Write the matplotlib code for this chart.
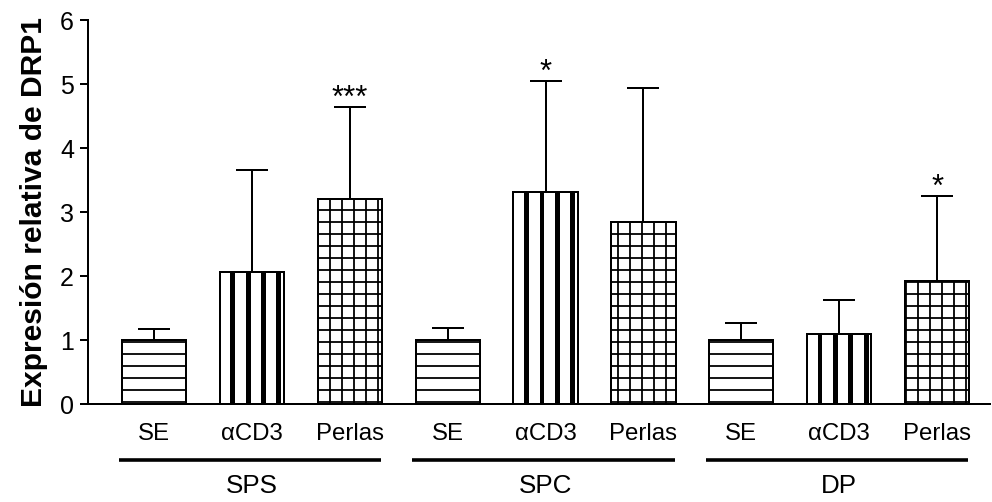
import matplotlib
matplotlib.use("Agg")
import matplotlib.pyplot as plt
import numpy as np

plt.rcParams['font.family'] = ['Liberation Sans', 'DejaVu Sans']

groups = ["SPS", "SPC", "DP"]
conditions = ["SE", "αCD3", "Perlas"]
means = [1.00, 2.06, 3.21, 1.00, 3.32, 2.84, 1.00, 1.09, 1.92]
err_upper = [0.17, 1.59, 1.43, 0.19, 1.73, 2.10, 0.26, 0.53, 1.33]
signif = ["", "", "***", "", "*", "", "", "", "*"]
y_ticks = [0, 1, 2, 3, 4, 5, 6]
y_label = "Expresión relativa de DRP1"

DPI = 72
fig = plt.figure(figsize=(992 / DPI, 502 / DPI), dpi=DPI)
ax = fig.add_axes([88 / 992, 98 / 502, (990 - 88) / 992, (404 - 20) / 502])

x = np.arange(len(means))
width = 0.655
lw = 2.0
plt.rcParams['hatch.linewidth'] = 1.8
hatches = {"SE": "-", "αCD3": "", "Perlas": "+"}

for i, (m, e) in enumerate(zip(means, err_upper)):
    cond = conditions[i % 3]
    ax.bar(x[i], m, width=width, color="white", edgecolor="black",
           linewidth=lw, hatch=hatches[cond], zorder=2)
    if cond == "αCD3":
        left = x[i] - width / 2
        for f in [0.2, 0.445, 0.68, 0.92]:
            ax.bar(left + f * width, m, width=0.05, color="black",
                   linewidth=0, zorder=3)
        ax.bar(x[i], m, width=width, color="none", edgecolor="black",
               linewidth=lw, zorder=4)
    ax.errorbar(x[i], m, yerr=[[0], [e]], fmt="none", ecolor="black",
                elinewidth=lw, capsize=16, capthick=lw, zorder=1)
    if signif[i]:
        ax.annotate(signif[i], (x[i], m + e), xytext=(0, -7),
                    textcoords="offset points", ha="center", va="bottom",
                    fontsize=31)

ax.set_xlim(-0.674, 8.54)
ax.set_ylim(0, 6)
ax.set_yticks(y_ticks)
ax.set_yticklabels([str(t) for t in y_ticks], fontsize=25)
ax.set_xticks(x)
ax.set_xticklabels([conditions[i % 3] for i in x], fontsize=24)
ax.tick_params(axis="x", length=0, pad=19)
ax.tick_params(axis="y", length=8, width=lw, pad=6)
for s in ["top", "right"]:
    ax.spines[s].set_visible(False)
for s in ["left", "bottom"]:
    ax.spines[s].set_linewidth(lw)

ax.set_ylabel(y_label, fontsize=30, fontweight="bold", labelpad=12)

for g, name in enumerate(groups):
    c = g * 3 + 1
    lo, hi = c - 1.36, c + 1.32
    ax.plot([lo, hi], [-0.87, -0.87], color="black", lw=3.6,
            clip_on=False, solid_capstyle="butt")
    ax.text(c, -1.1, name, ha="center", va="top", fontsize=26,
            transform=ax.transData)

fig.savefig("out.png", dpi=DPI)
